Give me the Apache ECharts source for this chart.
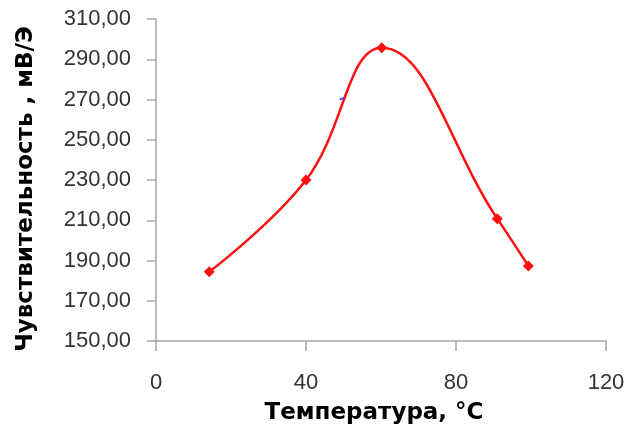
<!DOCTYPE html>
<html>
<head>
<meta charset="utf-8">
<script src="https://cdn.jsdelivr.net/npm/echarts@6/dist/echarts.min.js"></script>
<style>
  html, body { margin: 0; padding: 0; background: #fff; }
  #chart { width: 627px; height: 427px; }
</style>
</head>
<body>
<div id="chart"></div>
<script>
// Sensitivity of the sensor versus temperature
const temperature = [14.2, 40, 60.2, 91, 99.3];
const sensitivity = [184.4, 230, 295.7, 210.8, 187.3];
// small stray point drawn in blue
const strayPoint = [[49.6, 270.4]];

const xTicks = { min: 0, max: 120, interval: 40 };
const yTicks = { min: 150, max: 310, interval: 20 };
const xTitle = 'Температура, °C';
const yTitle = 'Чувствительность , мВ/Э';

const chart = echarts.init(document.getElementById('chart'), null, { renderer: 'canvas' });

const axisGray = '#a6a6a6';
const labelFont = '"Liberation Sans", Arial, sans-serif';
const titleFont = '"DejaVu Sans", Verdana, sans-serif';

chart.setOption({
  animation: false,
  backgroundColor: '#ffffff',
  grid: { left: 156, right: 21, top: 19, bottom: 86, containLabel: false, outerBoundsMode: 'none' },
  xAxis: {
    type: 'value',
    min: xTicks.min, max: xTicks.max, interval: xTicks.interval,
    axisLine: { show: true, lineStyle: { color: axisGray, width: 1.5 } },
    axisTick: { show: true, length: 10, lineStyle: { color: axisGray, width: 1.5 } },
    axisLabel: { margin: 31, fontFamily: labelFont, fontSize: 22, color: '#333333' },
    splitLine: { show: false }
  },
  yAxis: {
    type: 'value',
    min: yTicks.min, max: yTicks.max, interval: yTicks.interval,
    axisLine: { show: true, lineStyle: { color: axisGray, width: 1.5 } },
    axisTick: { show: true, length: 9, lineStyle: { color: axisGray, width: 1.5 } },
    axisLabel: {
      margin: 25, fontFamily: labelFont, fontSize: 22, color: '#333333',
      formatter: v => v.toFixed(2).replace('.', ',')
    },
    splitLine: { show: false }
  },
  graphic: [
    {
      type: 'text',
      x: 374, y: 413,
      style: {
        text: xTitle, fontFamily: titleFont, fontWeight: 'bold', fontSize: 23,
        fill: '#000', align: 'center', verticalAlign: 'middle'
      }
    },
    {
      type: 'text',
      x: 26, y: 189,
      rotation: Math.PI / 2,
      style: {
        text: yTitle, fontFamily: titleFont, fontWeight: 'bold', fontSize: 23,
        fill: '#000', align: 'center', verticalAlign: 'middle'
      }
    }
  ],
  series: [
    {
      type: 'line',
      data: temperature.map((t, i) => [t, sensitivity[i]]),
      smooth: 0.42,
      symbol: 'diamond',
      symbolSize: 11,
      lineStyle: { color: '#ff1010', width: 2.5 },
      itemStyle: { color: '#ff1010' }
    },
    {
      type: 'scatter',
      data: strayPoint,
      symbol: 'rect',
      symbolSize: [5, 2],
      symbolRotate: 20,
      itemStyle: { color: '#2030ff' },
      z: 5
    }
  ]
});
</script>
</body>
</html>
